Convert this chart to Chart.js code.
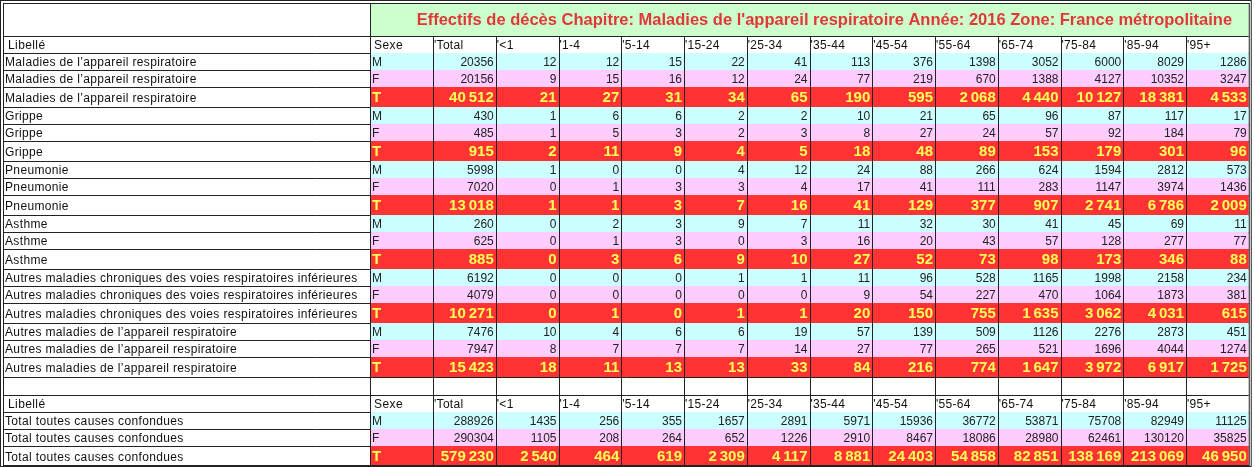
<!DOCTYPE html>
<html><head><meta charset="utf-8">
<script src="https://cdn.jsdelivr.net/npm/chart.js@4"></script>
<style>html,body{margin:0;padding:0;background:#fff}#w{width:1255px;height:467px}</style>
</head><body><div id="w"><canvas id="c" width="1255" height="467"></canvas></div>
<script>
const title = "Effectifs de décès Chapitre: Maladies de l'appareil respiratoire Année: 2016 Zone: France métropolitaine";
const headers = ["Libellé","Sexe","'Total","'<1","'1-4","'5-14","'15-24","'25-34","'35-44","'45-54","'55-64","'65-74","'75-84","'85-94","'95+"];
const causes = ["Maladies de l’appareil respiratoire","Grippe","Pneumonie","Asthme","Autres maladies chroniques des voies respiratoires inférieures","Autres maladies de l’appareil respiratoire"];
const totalCause = "Total toutes causes confondues";
const sexes = ["M","F","T"];
const maladiesResp = [[20356,12,12,15,22,41,113,376,1398,3052,6000,8029,1286],[20156,9,15,16,12,24,77,219,670,1388,4127,10352,3247],[40512,21,27,31,34,65,190,595,2068,4440,10127,18381,4533]];
const grippe = [[430,1,6,6,2,2,10,21,65,96,87,117,17],[485,1,5,3,2,3,8,27,24,57,92,184,79],[915,2,11,9,4,5,18,48,89,153,179,301,96]];
const pneumonie = [[5998,1,0,0,4,12,24,88,266,624,1594,2812,573],[7020,0,1,3,3,4,17,41,111,283,1147,3974,1436],[13018,1,1,3,7,16,41,129,377,907,2741,6786,2009]];
const asthme = [[260,0,2,3,9,7,11,32,30,41,45,69,11],[625,0,1,3,0,3,16,20,43,57,128,277,77],[885,0,3,6,9,10,27,52,73,98,173,346,88]];
const chroniques = [[6192,0,0,0,1,1,11,96,528,1165,1998,2158,234],[4079,0,0,0,0,0,9,54,227,470,1064,1873,381],[10271,0,1,0,1,1,20,150,755,1635,3062,4031,615]];
const autres = [[7476,10,4,6,6,19,57,139,509,1126,2276,2873,451],[7947,8,7,7,7,14,27,77,265,521,1696,4044,1274],[15423,18,11,13,13,33,84,216,774,1647,3972,6917,1725]];
const toutesCauses = [[288926,1435,256,355,1657,2891,5971,15936,36772,53871,75708,82949,11125],[290304,1105,208,264,652,1226,2910,8467,18086,28980,62461,130120,35825],[579230,2540,464,619,2309,4117,8881,24403,54858,82851,138169,213069,46950]];
const groups = [maladiesResp,grippe,pneumonie,asthme,chroniques,autres];

const rows = [];
rows.push({type:'title',h:33});
rows.push({type:'header',h:17});
groups.forEach((g,i)=>g.forEach((v,j)=>rows.push({type:'data',label:causes[i],sex:sexes[j],vals:v,h:j==2?20:17})));
rows.push({type:'blank',h:18});
rows.push({type:'header',h:17});
toutesCauses.forEach((v,j)=>rows.push({type:'data',label:totalCause,sex:sexes[j],vals:v,h:j==2?19:17}));

const colW = [366,63].concat(Array(13).fill(62.75));
const fmtT = n => String(n).replace(/\B(?=(\d{3})+(?!\d))/g,'\u2009');
const fills = {M:'#ccffff',F:'#ffccff',T:'#ff3333'};
const F = '"Liberation Sans",Arial';

const tablePlugin = {
  id:'table',
  afterDraw(chart){
    const ctx = chart.ctx, xs = chart.scales.x, ys = chart.scales.y;
    const X = v=>xs.getPixelForValue(v), Y = v=>ys.getPixelForValue(v);
    const edges=[4]; colW.forEach(w=>edges.push(edges[edges.length-1]+w));
    const right = edges[edges.length-1];
    let y0 = 3;
    ctx.save();
    ctx.textBaseline='middle';
    rows.forEach(r=>{
      const y1=y0+r.h, top=Y(y0), bot=Y(y1), mid=(top+bot)/2;
      ctx.letterSpacing='0px';
      if(r.type==='title'){
        ctx.fillStyle='#ccffcc'; ctx.fillRect(X(edges[1]),top,X(right)-X(edges[1]),bot-top);
        ctx.fillStyle='#e03838'; ctx.font='bold 16.5px '+F; ctx.textAlign='center';
        ctx.fillText(title,(X(edges[1])+X(right))/2+15,mid+1);
      } else if(r.type==='header'){
        ctx.fillStyle='#111'; ctx.textAlign='left';
        headers.forEach((h,i)=>{ctx.letterSpacing=i<2?'0.4px':'0.3px'; ctx.font='12px '+F; ctx.fillText(h,X(edges[i])+(i<2?4:1),mid+1);});
      } else if(r.type==='data'){
        const T = r.sex==='T';
        ctx.fillStyle=fills[r.sex]; ctx.fillRect(X(edges[1]),top,X(right)-X(edges[1]),bot-top);
        ctx.fillStyle='#111'; ctx.font='12px '+F; ctx.textAlign='left'; ctx.letterSpacing='0.35px';
        ctx.fillText(r.label,X(edges[0])+1,mid+(T?2:1));
        ctx.letterSpacing='0px';
        ctx.fillStyle=T?'#ffff55':'#222'; ctx.font=T?'bold 15px '+F:'12px '+F;
        ctx.fillText(r.sex,X(edges[1])+2,mid+1);
        ctx.textAlign='right';
        r.vals.forEach((v,i)=>{
          ctx.font=T?'bold 15px '+F:'12px '+F;
          ctx.fillText(T?fmtT(v):String(v),X(edges[i+3])-2,mid+1);
        });
      }
      ctx.strokeStyle='#222'; ctx.lineWidth=1;
      ctx.beginPath(); ctx.moveTo(X(edges[0]),Math.round(bot)+0.5); ctx.lineTo(X(right),Math.round(bot)+0.5); ctx.stroke();
      if(r.type!=='title'){
        edges.slice(1,-1).forEach(e=>{ctx.beginPath();ctx.moveTo(Math.round(X(e))+0.5,top);ctx.lineTo(Math.round(X(e))+0.5,bot);ctx.stroke();});
      } else {
        ctx.beginPath();ctx.moveTo(Math.round(X(edges[1]))+0.5,top);ctx.lineTo(Math.round(X(edges[1]))+0.5,bot);ctx.stroke();
      }
      y0=y1;
    });
    ctx.strokeStyle='#222';
    ctx.strokeRect(0.5,0.5,X(right)+2,Y(y0)+1);
    ctx.strokeRect(3.5,3.5,X(right)-3,Y(y0)-3);
    ctx.restore();
  }
};

new Chart(document.getElementById('c'),{
  type:'scatter',
  data:{datasets:[{data:[]}]},
  options:{responsive:false,animation:false,layout:{padding:0},
    plugins:{legend:{display:false},tooltip:{enabled:false}},
    scales:{x:{type:'linear',min:0,max:1255,display:false},y:{type:'linear',min:0,max:467,reverse:true,display:false}}},
  plugins:[tablePlugin]
});
</script></body></html>
